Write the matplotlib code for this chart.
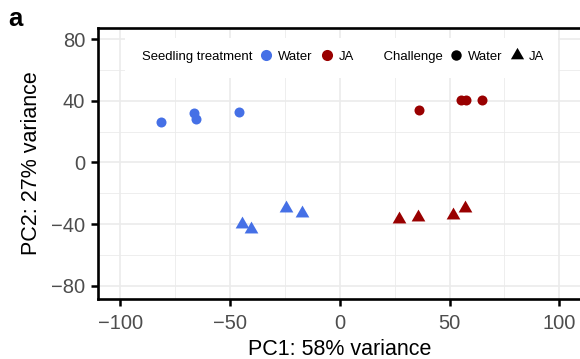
import matplotlib
matplotlib.use("Agg")
import matplotlib.pyplot as plt
from matplotlib.lines import Line2D
from matplotlib.path import Path
from matplotlib.patches import Rectangle
import numpy as np

# ---- data ----
pc1_water_water = [-81.5, -66.6, -65.5, -46.1]
pc2_water_water = [26.1, 31.9, 28.1, 32.8]
pc1_ja_water = [36.1, 55.2, 57.4, 64.6]
pc2_ja_water = [34.3, 40.8, 40.6, 40.8]
pc1_water_ja = [-44.6, -40.5, -24.7, -17.4]
pc2_water_ja = [-39.8, -42.9, -29.5, -32.5]
pc1_ja_ja = [26.8, 35.6, 51.4, 56.9]
pc2_ja_ja = [-36.7, -35.3, -34.0, -29.6]

xticks = [-100, -50, 0, 50, 100]
yticks = [-80, -40, 0, 40, 80]
xlabel = "PC1: 58% variance"
ylabel = "PC2: 27% variance"
treat_title = "Seedling treatment"
chal_title = "Challenge"
treat_labels = ["Water", "JA"]
chal_labels = ["Water", "JA"]

col_water = "#4570E6"
col_ja = "#990000"

tri = Path([(0, 1), (-0.866, -0.5), (0.866, -0.5), (0, 1)],
           [Path.MOVETO, Path.LINETO, Path.LINETO, Path.CLOSEPOLY])

plt.rcParams['font.family'] = ['Liberation Sans', 'DejaVu Sans']

W, H = 580, 359
fig = plt.figure(figsize=(W / 100, H / 100), dpi=100)
L, R, T, B = 98.3, 582.0, 28.0, 299.0
ax = fig.add_axes([L / W, (H - B) / H, (R - L) / W, (B - T) / H])

ax.set_xlim(-110, 110.3)
ax.set_ylim(-88.6, 87.3)

# grid
ax.set_xticks(xticks)
ax.set_yticks(yticks)
ax.set_xticks([-75, -25, 25, 75], minor=True)
ax.set_yticks([-60, -20, 20, 60], minor=True)
ax.grid(True, which='major', color='#EBEBEB', lw=1.2, zorder=0)
ax.grid(True, which='minor', color='#EBEBEB', lw=0.6, zorder=0)
ax.set_axisbelow(True)
ax.tick_params(which='minor', length=0)
ax.tick_params(which='major', length=5, width=1.8, color='black',
               labelsize=14.5, labelcolor='#4D4D4D')
ax.tick_params(axis='y', pad=4.5)
ax.tick_params(axis='x', pad=6)
for s in ax.spines.values():
    s.set_linewidth(1.9)
    s.set_color('black')

# points
ax.scatter(pc1_water_water, pc2_water_water, s=52, marker='o', color=col_water, lw=0, zorder=3)
ax.scatter(pc1_ja_water, pc2_ja_water, s=52, marker='o', color=col_ja, lw=0, zorder=3)
ax.scatter(pc1_water_ja, pc2_water_ja, s=130, marker=tri, color=col_water, lw=0, zorder=3)
ax.scatter(pc1_ja_ja, pc2_ja_ja, s=130, marker=tri, color=col_ja, lw=0, zorder=3)

# axis labels
ax.set_xlabel(xlabel, fontsize=15.5, color='black', va='baseline')
ax.xaxis.set_label_coords(0.5, (4 - 60) / (B - T))
ax.set_ylabel(ylabel, fontsize=15.5, color='black', va='center')
ax.yaxis.set_label_coords((31.5 - L) / (R - L), 0.5)

# legend background
def ax_x(px):
    return (px - L) / (R - L)

def ax_y(py):
    return (B - py) / (B - T)

bg = Rectangle((ax_x(125), ax_y(78)), ax_x(558) - ax_x(125), ax_y(38) - ax_y(78),
               transform=ax.transAxes, facecolor='white', edgecolor='none', zorder=2.5)
ax.add_patch(bg)

blank = Line2D([], [], linestyle='none', marker=None)
handles = [
    blank,
    Line2D([], [], linestyle='none', marker='o', markersize=8, color=col_water, markeredgewidth=0),
    Line2D([], [], linestyle='none', marker='o', markersize=8, color=col_ja, markeredgewidth=0),
    blank,
    Line2D([], [], linestyle='none', marker='o', markersize=7.5, color='black', markeredgewidth=0),
    Line2D([], [], linestyle='none', marker=tri, markersize=11, color='black', markeredgewidth=0),
]
labels = [treat_title] + treat_labels + [" " + chal_title] + chal_labels
leg = ax.legend(handles, labels, ncol=6, loc='center left',
                bbox_to_anchor=(ax_x(124.7), ax_y(56.5)),
                frameon=False, fontsize=9.45, handlelength=0.8, handletextpad=0.5,
                columnspacing=0.67, borderpad=0, borderaxespad=0)
leg.set_zorder(4)

fig.text(8 / W, (H - 26) / H, "a", fontsize=18.5, fontweight='bold', va='baseline', ha='left')

fig.savefig("out.png", dpi=100)
